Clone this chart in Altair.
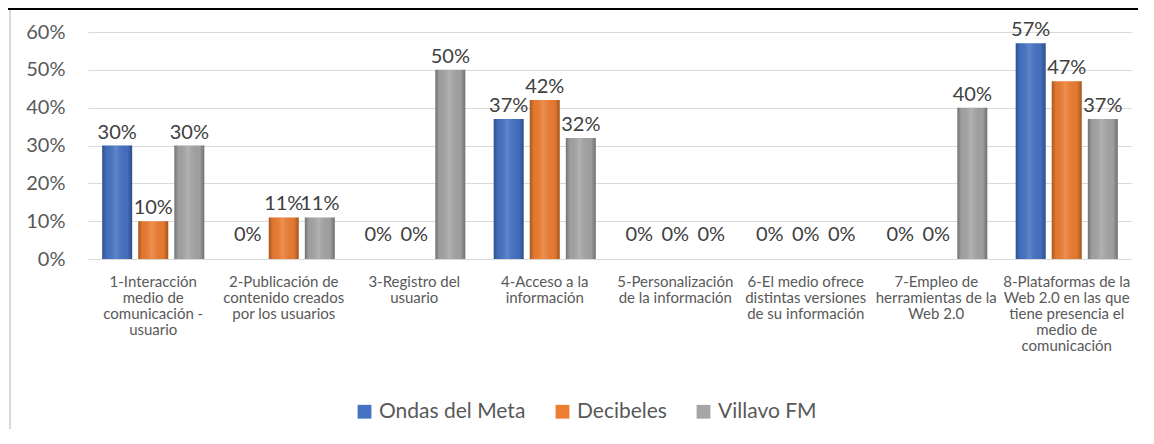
import altair as alt
import pandas as pd

categories = [
    "1-Interacción\nmedio de\ncomunicación -\nusuario",
    "2-Publicación de\ncontenido creados\npor los usuarios",
    "3-Registro del\nusuario",
    "4-Acceso a  la\ninformación",
    "5-Personalización\nde la información",
    "6-El medio ofrece\ndistintas versiones\nde su información",
    "7-Empleo de\nherramientas de la\nWeb 2.0",
    "8-Plataformas de la\nWeb 2.0 en las que\ntiene presencia el\nmedio de\ncomunicación",
]
series = ["Ondas del Meta", "Decibeles", "Villavo FM"]
ondas = [0.30, 0.00, 0.00, 0.37, 0.00, 0.00, 0.00, 0.57]
decibeles = [0.10, 0.11, 0.00, 0.42, 0.00, 0.00, 0.00, 0.47]
villavo = [0.30, 0.11, 0.50, 0.32, 0.00, 0.00, 0.40, 0.37]
y_ticks = [0, 0.1, 0.2, 0.3, 0.4, 0.5, 0.6]
colors = ["#4472C4", "#ED7D31", "#A5A5A5"]

rows = []
for s, vals in zip(series, [ondas, decibeles, villavo]):
    for c, v in zip(categories, vals):
        rows.append({"cat": c, "serie": s, "value": v})
df = pd.DataFrame(rows)

FONT = "Lato"

x_enc = alt.X("cat:N", sort=categories, title=None,
              scale=alt.Scale(paddingInner=0.218, paddingOuter=0.109),
              axis=alt.Axis(labelExpr="split(datum.label, '\\n')", labelAngle=0,
                            labelFontSize=15, labelColor="#595959", labelFont=FONT,
                            labelLineHeight=16, labelPadding=15, domain=False,
                            ticks=False, grid=False, labelLimit=250, labelOverlap=False))
xo_enc = alt.XOffset("serie:N", sort=series, scale=alt.Scale(paddingInner=0.17, paddingOuter=0))
y_enc = alt.Y("value:Q", title=None,
              scale=alt.Scale(domain=[0, 0.6], nice=False),
              axis=alt.Axis(format=".0%", values=y_ticks, labelOverlap=False,
                            labelFontSize=20, labelColor="#595959", labelFont=FONT,
                            labelPadding=23, domain=False, ticks=False,
                            gridColor="#d9d9d9", gridWidth=1.2))

base = alt.Chart(df)

bars = base.mark_bar().encode(
    x=x_enc, xOffset=xo_enc, y=y_enc,
    color=alt.Color("serie:N", sort=series,
                    scale=alt.Scale(domain=series, range=colors),
                    legend=alt.Legend(title=None, orient="none", legendX=266, legendY=369,
                                      direction="horizontal", symbolType="square",
                                      symbolSize=190, symbolStrokeWidth=0,
                                      labelFontSize=21, labelColor="#595959",
                                      labelFont=FONT, labelOffset=4, columnPadding=26)),
)

shade = base.mark_bar(
    color=alt.Gradient(
        gradient="linear", x1=0, x2=1, y1=0, y2=0,
        stops=[
            alt.GradientStop(color="rgba(0,0,0,0.30)", offset=0),
            alt.GradientStop(color="rgba(0,0,0,0.04)", offset=0.14),
            alt.GradientStop(color="rgba(255,255,255,0.14)", offset=0.45),
            alt.GradientStop(color="rgba(0,0,0,0.04)", offset=0.84),
            alt.GradientStop(color="rgba(0,0,0,0.32)", offset=1),
        ],
    )
).encode(x=x_enc, xOffset=xo_enc, y=y_enc)

labels_pos = base.transform_filter("datum.value > 0").mark_text(
    baseline="bottom", dy=-3, fontSize=20, font=FONT, color="#404040"
).encode(x=x_enc, xOffset=xo_enc, y=y_enc, text=alt.Text("value:Q", format=".0%"))

labels_zero = base.transform_filter("datum.value == 0").mark_text(
    baseline="bottom", dy=-14, fontSize=20, font=FONT, color="#404040"
).encode(x=x_enc, xOffset=xo_enc, y=y_enc, text=alt.Text("value:Q", format=".0%"))

frame_df = pd.DataFrame({"k": [0]})
top_line = alt.Chart(frame_df).mark_rule(color="#000000", strokeWidth=2).encode(
    x=alt.value(-80), x2=alt.value(1060), y=alt.value(-23))
left_line = alt.Chart(frame_df).mark_rule(color="#d9d9d9", strokeWidth=2).encode(
    x=alt.value(-78), y=alt.value(-22), y2=alt.value(400))

chart = alt.layer(bars, shade, labels_pos, labels_zero, top_line, left_line).properties(
    width=1044, height=227,
    background="white",
    autosize=alt.AutoSizeParams(type="none"),
    padding={"left": 80, "top": 24, "right": 6, "bottom": 170},
).configure_view(stroke="transparent", strokeWidth=0).configure_axis(
    labelOverlap=False
)

chart.save("out.html", embed_options={"renderer": "svg", "actions": False})
